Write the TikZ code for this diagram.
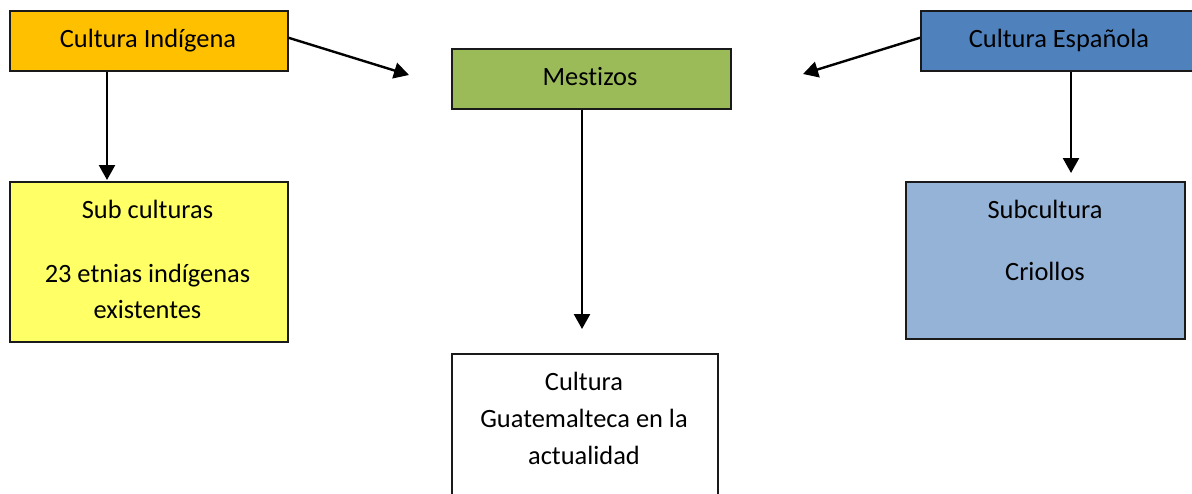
\documentclass[tikz,border=0pt]{standalone}
\usepackage{fontspec}
\setmainfont{Carlito}[Ligatures=NoCommon]
\usetikzlibrary{arrows.meta}
\definecolor{cOrange}{HTML}{FFC000}
\definecolor{cGreen}{HTML}{9BBB59}
\definecolor{cBlue}{HTML}{4F81BD}
\definecolor{cYellow}{HTML}{FFFF66}
\definecolor{cLightBlue}{HTML}{95B3D7}
\definecolor{cBorder}{HTML}{1A1A1A}
\begin{document}
\begin{tikzpicture}[x=0.5pt,y=-0.5pt,
  boxnode/.style={draw=cBorder, line width=0.75pt, rectangle, anchor=north west, inner sep=0pt},
  txt/.style={anchor=base, inner sep=0pt, font=\fontsize{13.2}{16}\selectfont},
  arr/.style={line width=1.2pt, -{Triangle[length=7.5pt,width=8pt]}}]
\useasboundingbox (0,0) rectangle (1192,493);
% boxes
\node[boxnode, fill=cOrange, minimum width=139pt, minimum height=30pt] (ind) at (9,10) {};
\node[boxnode, fill=cGreen, minimum width=139.5pt, minimum height=30pt] (mes) at (451,48) {};
\node[boxnode, fill=cBlue, minimum width=145pt, minimum height=30pt] (esp) at (920,10) {};
\node[boxnode, fill=cYellow, minimum width=139pt, minimum height=80pt] (sub) at (9,181) {};
\node[boxnode, fill=cLightBlue, minimum width=139.5pt, minimum height=78.5pt] (cri) at (905,181) {};
\node[boxnode, fill=white, minimum width=133pt, minimum height=90pt] (gua) at (451,353) {};
% texts
\node[txt] (ind-t) at (148,47) {Cultura Indígena};
\node[txt] (mes-t) at (590,85) {Mestizos};
\node[txt] (esp-t) at (1059,47) {Cultura Española};
\node[txt] (sub-t1) at (147.5,218) {Sub culturas};
\node[txt] (sub-t2) at (147.5,282) {23 etnias indígenas};
\node[txt] (sub-t3) at (147.5,318) {existentes};
\node[txt] (cri-t1) at (1045,218) {Subcultura};
\node[txt] (cri-t2) at (1045,280) {Criollos};
\node[txt] (gua-t1) at (584,390) {Cultura};
\node[txt] (gua-t2) at (584,427) {Guatemalteca en la};
\node[txt] (gua-t3) at (584,464) {actualidad};
% free arrow ends
\coordinate (indTip) at (409,75);
\coordinate (espTip) at (803,74);
\coordinate (subIn) at (107,180);
\coordinate (criIn) at (1071,173);
\coordinate (guaIn) at (582,329);
% connectors
\draw[arr] (ind.east) ++(0,-3) -- (indTip);
\draw[arr] (esp.west) ++(0,-3) -- (espTip);
\draw[arr] (ind.south -| subIn) -- (subIn);
\draw[arr] (esp.south -| criIn) -- (criIn);
\draw[arr] (mes.south -| guaIn) -- (guaIn);
\end{tikzpicture}
\end{document}
